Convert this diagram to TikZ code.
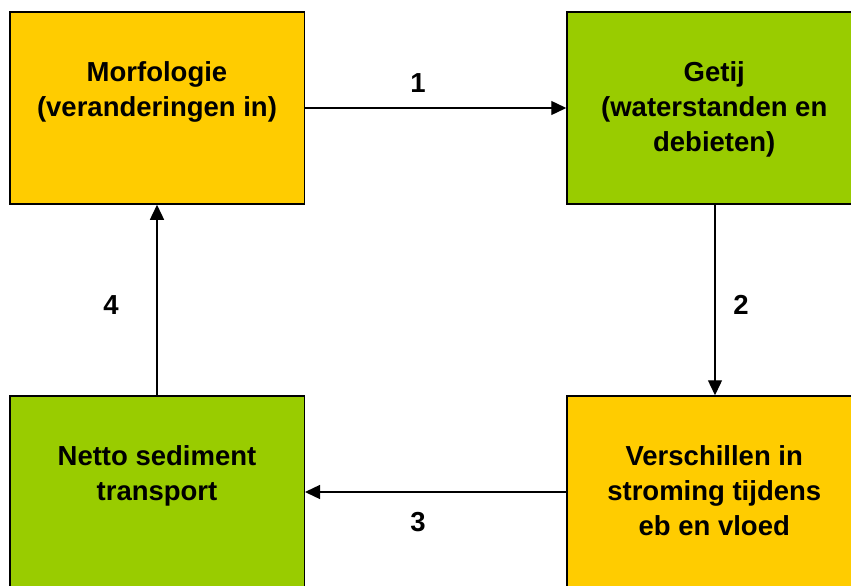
\documentclass[tikz,border=0pt]{standalone}
\usepackage{fontspec}
\setmainfont{Liberation Sans}
\usetikzlibrary{arrows.meta}
\definecolor{boxorange}{HTML}{FFCC00}
\definecolor{boxgreen}{HTML}{99CC00}
\begin{document}
\begin{tikzpicture}[x=1pt,y=-1pt,
  box/.style={draw=black, line width=1.5pt, rectangle, inner sep=0pt, minimum width=294.5pt, minimum height=192pt},
  boxtext/.style={anchor=north, inner sep=0pt, align=center, font=\fontsize{27.5}{35}\selectfont\bfseries},
  numlabel/.style={inner sep=0pt, font=\fontsize{27.5}{33}\selectfont\bfseries},
  conn/.style={draw=black, line width=1.4pt, -{Triangle[length=15pt,width=14pt]}}]
\useasboundingbox (0,0) rectangle (851,586);
\clip (0,0) rectangle (851,586);
\node[box, fill=boxorange] (morf) at (157,108) {};
\node[box, fill=boxgreen] (getij) at (714.25,108) {};
\node[box, fill=boxgreen] (netto) at (157,492) {};
\node[box, fill=boxorange] (versch) at (714.25,492) {};
\node[boxtext] (morft) at (157,61) {Morfologie\\(veranderingen in)};
\node[boxtext] (getijt) at (714.25,61) {Getij\\(waterstanden en\\debieten)};
\node[boxtext] (nettot) at (157,445) {Netto sediment\\transport};
\node[boxtext] (verscht) at (714.25,445) {Verschillen in\\stroming tijdens\\eb en vloed};
\draw[conn] (morf.east) -- (getij.west);
\draw[conn] (getij.south -| 715,0) -- (versch.north -| 715,0);
\draw[conn] (versch.west) -- (netto.east);
\draw[conn] (netto.north) -- (morf.south);
\node[numlabel] (n1) at (418,83) {1};
\node[numlabel] (n2) at (741,305) {2};
\node[numlabel] (n3) at (418,522) {3};
\node[numlabel] (n4) at (111,305) {4};
\end{tikzpicture}
\end{document}
